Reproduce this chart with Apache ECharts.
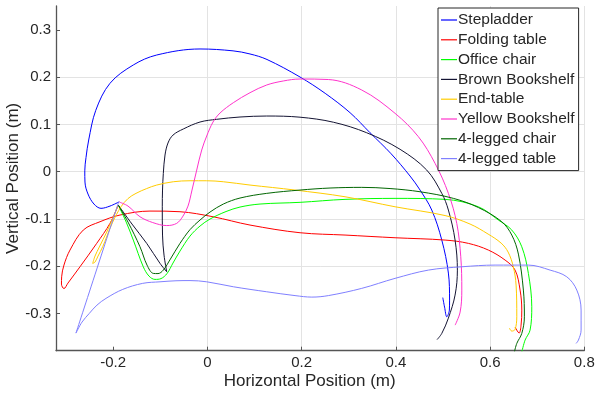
<!DOCTYPE html>
<html>
<head>
<meta charset="utf-8">
<script src="https://cdn.jsdelivr.net/npm/echarts@6/dist/echarts.min.js"></script>
<style>
  html, body { margin: 0; padding: 0; background: #fff; }
  #chart { width: 595px; height: 396px; }
</style>
</head>
<body>
<div id="chart"></div>
<script>
// Trajectories of the end effector for each object, [horizontal, vertical] in metres
const stepladder = [
  [-0.187, -0.0636], [-0.2068, -0.0727], [-0.2259, -0.0775], [-0.2408, -0.0684],
  [-0.2535, -0.0472], [-0.2599, -0.0218], [-0.2603, 0.0020], [-0.2577, 0.0300],
  [-0.2520, 0.0672], [-0.2370, 0.1300], [-0.2068, 0.1873], [-0.1573, 0.2261],
  [-0.1076, 0.2472], [-0.0157, 0.2600], [0.0544, 0.2560], [0.0904, 0.2494],
  [0.1265, 0.2377], [0.1966, 0.2006], [0.2500, 0.1660], [0.3028, 0.1250],
  [0.3452, 0.0826], [0.3900, 0.0380], [0.4301, -0.0091], [0.4514, -0.0388],
  [0.4762, -0.0811], [0.4975, -0.1447], [0.5115, -0.2146], [0.5140, -0.2718],
  [0.5136, -0.2930], [0.5081, -0.3072], [0.5034, -0.2867], [0.4996, -0.2665]
];
const foldingTable = [
  [-0.1892, -0.0706], [-0.2068, -0.1093], [-0.235, -0.1517], [-0.2705, -0.2013],
  [-0.296, -0.2358], [-0.3045, -0.2475], [-0.3098, -0.2379], [-0.3094, -0.2225],
  [-0.3045, -0.1977], [-0.2917, -0.1659], [-0.2635, -0.1235], [-0.228, -0.1059],
  [-0.1856, -0.0917], [-0.1219, -0.0833], [-0.0582, -0.0847], [0.0119, -0.0953],
  [0.0904, -0.1129], [0.1966, -0.1292], [0.2921, -0.1341], [0.3983, -0.1398],
  [0.5045, -0.1447], [0.5539, -0.1517], [0.5964, -0.1659], [0.6319, -0.1871],
  [0.6531, -0.2083], [0.6637, -0.2506], [0.6673, -0.293], [0.6658, -0.3248],
  [0.6616, -0.3417], [0.6531, -0.329]
];
const officeChair = [
  [-0.1892, -0.0706], [-0.1724, -0.1066], [-0.1573, -0.1447], [-0.1361, -0.2013],
  [-0.1240, -0.2210], [-0.1113, -0.2280], [-0.0985, -0.2263], [-0.0858, -0.2157],
  [-0.0731, -0.1934], [-0.0582, -0.1680], [-0.0369, -0.1362], [-0.0157, -0.1150],
  [0.0055, -0.1002], [0.0395, -0.0843], [0.0692, -0.0748], [0.1117, -0.0684],
  [0.1966, -0.0648], [0.2921, -0.0585], [0.3983, -0.0564], [0.5045, -0.0585],
  [0.5752, -0.0742], [0.6176, -0.1023], [0.6461, -0.1235], [0.6673, -0.1589],
  [0.6813, -0.2153], [0.6885, -0.2860], [0.6849, -0.3354], [0.6743, -0.3566],
  [0.6673, -0.3820]
];
const brownBookshelf = [
  [-0.1892, -0.0706], [-0.1601, -0.1108], [-0.1289, -0.1517], [-0.1006, -0.1941],
  [-0.0864, -0.2119], [-0.0921, -0.1765], [-0.0953, -0.1341], [-0.0958, -0.0742],
  [-0.0953, -0.0388], [-0.0936, -0.0034], [-0.0900, 0.0354], [-0.0837, 0.0608],
  [-0.0730, 0.0777], [-0.0512, 0.0905], [-0.0157, 0.1053], [0.0197, 0.1110],
  [0.0692, 0.1159], [0.1259, 0.1180], [0.1966, 0.1155], [0.2673, 0.1049],
  [0.3381, 0.0826], [0.4089, 0.0475], [0.4655, 0.0036], [0.4975, -0.0458],
  [0.5115, -0.0811], [0.5257, -0.1447], [0.5306, -0.2083], [0.5257, -0.2612],
  [0.5115, -0.3100], [0.4975, -0.3424], [0.4875, -0.3555]
];
const endTable = [
  [-0.1892, -0.0706], [-0.2026, -0.1023], [-0.2138, -0.1278], [-0.2295, -0.1595],
  [-0.2386, -0.1786], [-0.2435, -0.1941], [-0.2386, -0.1913], [-0.2322, -0.1786],
  [-0.2223, -0.1589], [-0.2132, -0.1362], [-0.2011, -0.1066], [-0.1834, -0.0742],
  [-0.1686, -0.0568], [-0.1516, -0.0458], [-0.1289, -0.0356], [-0.1076, -0.0282],
  [-0.0724, -0.0212], [-0.0369, -0.0191], [-0.0015, -0.0191], [0.0338, -0.0212],
  [0.0904, -0.0282], [0.1860, -0.0388], [0.2921, -0.0530], [0.3983, -0.0742],
  [0.5045, -0.0928], [0.5575, -0.1108], [0.5958, -0.1320], [0.6234, -0.1511],
  [0.6383, -0.1701], [0.6495, -0.2019], [0.6552, -0.2400], [0.6567, -0.3072],
  [0.6531, -0.3339], [0.6461, -0.3375], [0.6410, -0.3311]
];
const yellowBookshelf = [
  [-0.187, -0.0642], [-0.1686, -0.0727], [-0.1431, -0.0953], [-0.1161, -0.1076],
  [-0.0864, -0.1140], [-0.0652, -0.1093], [-0.0518, -0.0939], [-0.0412, -0.0727],
  [-0.0327, -0.0388], [-0.0227, 0.0036], [-0.0121, 0.0460], [-0.0015, 0.0756],
  [0.0119, 0.1053], [0.0268, 0.1244], [0.0550, 0.1462], [0.0904, 0.1674],
  [0.1259, 0.1837], [0.1611, 0.1922], [0.1966, 0.1964], [0.2567, 0.1953],
  [0.3276, 0.1731], [0.3983, 0.1237], [0.4478, 0.0742], [0.4832, 0.0178],
  [0.5115, -0.0458], [0.5293, -0.1093], [0.5378, -0.1801], [0.5400, -0.2506],
  [0.5364, -0.2972], [0.5258, -0.3248]
];
const fourLeggedChair = [
  [-0.1892, -0.0706], [-0.1686, -0.1066], [-0.1431, -0.1589], [-0.1282, -0.1977],
  [-0.1149, -0.2153], [-0.1049, -0.2157], [-0.0936, -0.2083], [-0.0786, -0.1850],
  [-0.0582, -0.1517], [-0.0369, -0.1225], [-0.0157, -0.1023], [0.0055, -0.0854],
  [0.0338, -0.0684], [0.0692, -0.0557], [0.1259, -0.0458], [0.1966, -0.0388],
  [0.2603, -0.0345], [0.3276, -0.0331], [0.3877, -0.0356], [0.4514, -0.0424],
  [0.5221, -0.0564], [0.5752, -0.0758], [0.6248, -0.1059], [0.6461, -0.1341],
  [0.6601, -0.1744], [0.6707, -0.2506], [0.6728, -0.3072], [0.6673, -0.3424],
  [0.6567, -0.3636], [0.6516, -0.3820]
];
const fourLeggedTable = [
  [-0.1892, -0.0663], [-0.279, -0.3417], [-0.2662, -0.3184], [-0.2507, -0.3000],
  [-0.2344, -0.2824], [-0.2153, -0.2682], [-0.1798, -0.2492], [-0.1374, -0.2364],
  [-0.1006, -0.2331], [-0.0667, -0.2309], [-0.0369, -0.2305], [-0.0015, -0.2331],
  [0.0550, -0.2436], [0.1259, -0.2542], [0.1860, -0.2623], [0.2216, -0.2655],
  [0.2567, -0.2623], [0.3276, -0.2470], [0.3983, -0.2258], [0.4690, -0.2083],
  [0.5399, -0.2013], [0.6106, -0.1977], [0.6813, -0.1977], [0.7274, -0.2083],
  [0.7628, -0.2225], [0.7841, -0.2506], [0.7932, -0.2930], [0.7932, -0.3354],
  [0.7875, -0.3566], [0.7826, -0.3636]
];

const seriesNames = ['Stepladder', 'Folding table', 'Office chair', 'Brown Bookshelf',
  'End-table', 'Yellow Bookshelf', '4-legged chair', '4-legged table'];
const seriesData = [stepladder, foldingTable, officeChair, brownBookshelf,
  endTable, yellowBookshelf, fourLeggedChair, fourLeggedTable];
const seriesColors = ['#0000ff', '#ff0000', '#00ff00', '#141433',
  '#ffcc00', '#ff33cc', '#006600', '#8080ff'];

const xTicks = [-0.2, 0, 0.2, 0.4, 0.6, 0.8];
const yTicks = [-0.3, -0.2, -0.1, 0, 0.1, 0.2, 0.3];
const xRange = [-0.3214, 0.8];
const yRange = [-0.379, 0.351];

const FONT = 'Liberation Sans, Arial, Helvetica, sans-serif';
const AXIS_COLOR = '#555555';
const TEXT_COLOR = '#262626';
const GRID_COLOR = '#e3e3e3';

function axisBase(range, ticks) {
  return {
    type: 'value',
    min: range[0],
    max: range[1],
    nameMoveOverlap: false,
    axisLine: { show: true, onZero: false, lineStyle: { color: AXIS_COLOR, width: 1.3 } },
    axisTick: { show: true, inside: true, length: 4, customValues: ticks,
      lineStyle: { color: AXIS_COLOR, width: 1 } },
    axisLabel: { customValues: ticks, color: TEXT_COLOR, fontFamily: FONT, fontSize: 15, margin: 5 },
    splitLine: { show: true, showMinLine: false, lineStyle: { color: GRID_COLOR, width: 1 } },
    nameTextStyle: { color: TEXT_COLOR, fontFamily: FONT, fontSize: 17 }
  };
}

const xAxis = Object.assign(axisBase(xRange, xTicks), {
  name: 'Horizontal Position (m)',
  nameLocation: 'middle',
  nameGap: 22
});
xAxis.nameTextStyle.padding = [0, 21, 0, 0];
xAxis.splitLine.showMaxLine = true;

const yAxis = Object.assign(axisBase(yRange, yTicks), {
  name: 'Vertical Position (m)',
  nameLocation: 'middle',
  nameGap: 34
});
yAxis.splitLine.showMaxLine = false;

const chart = echarts.init(document.getElementById('chart'), null, { renderer: 'canvas' });
chart.setOption({
  animation: false,
  backgroundColor: '#ffffff',
  grid: { left: 56, right: 10.7, top: 6, bottom: 45.3, containLabel: false, outerBoundsMode: 'none' },
  xAxis: xAxis,
  yAxis: yAxis,
  legend: {
    orient: 'vertical',
    left: 438,
    top: 8,
    padding: [4, 4, 4, 3],
    itemGap: 3.8,
    itemWidth: 16,
    itemHeight: 1.2,
    icon: 'rect',
    backgroundColor: '#ffffff',
    borderColor: '#262626',
    borderWidth: 1,
    borderRadius: 0,
    textStyle: { color: TEXT_COLOR, fontFamily: FONT, fontSize: 15.5, lineHeight: 15, padding: [0, 0, 0, -4] },
    data: seriesNames
  },
  series: seriesNames.map((name, i) => ({
    name: name,
    type: 'line',
    data: seriesData[i],
    symbol: 'none',
    showSymbol: false,
    smooth: 0.35,
    clip: true,
    color: seriesColors[i],
    lineStyle: { color: seriesColors[i], width: 1 }
  }))
});
</script>
</body>
</html>
